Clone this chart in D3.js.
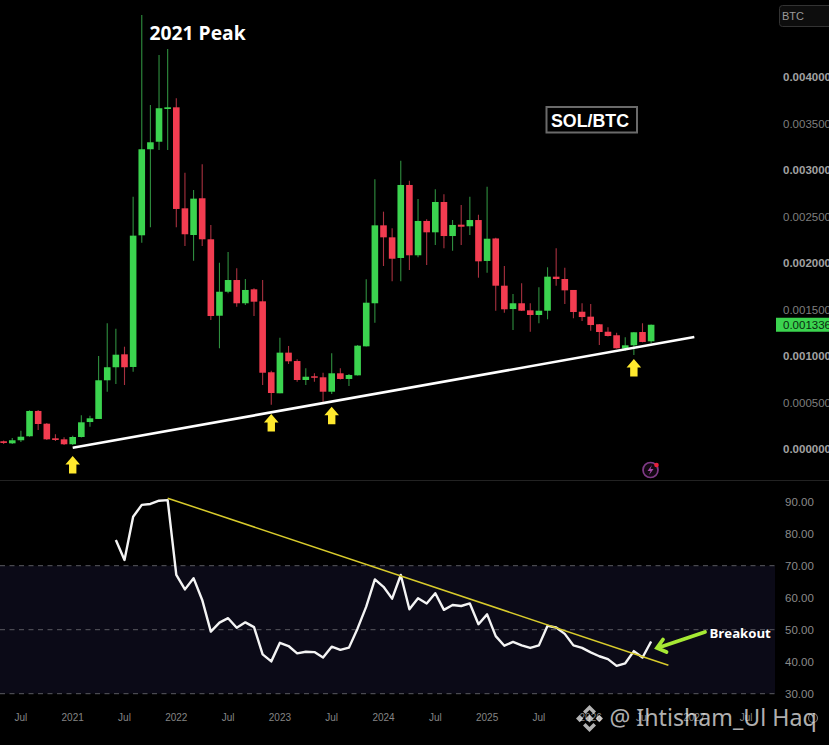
<!DOCTYPE html>
<html>
<head>
<meta charset="utf-8">
<title>SOL/BTC</title>
<script src="https://cdn.jsdelivr.net/npm/d3@7"></script>
<style>
  html, body { margin: 0; padding: 0; background: #000; overflow: hidden; }
  text { font-family: "Liberation Sans", Arial, sans-serif; }
</style>
</head>
<body>
<div id="chart"></div>
<script>
// months since Jan 2021, one candle per month
const firstMonth = -8;
// prices in millionths of a BTC
const opens = [83,61,94,137,409,272,115,104,51,129,290,323,739,879,1018,882,2298,3223,3304,3656,3674,2588,2301,2696,2255,1433,1691,1817,1567,1717,1588,825,599,1036,946,742,782,771,616,814,753,792,1104,1567,2405,2276,2054,2839,2083,2452,2330,2656,2290,2412,2395,2462,2022,2264,1756,1505,1567,1491,1441,1487,1853,1828,1710,1476,1423,1341,1261,1223,1079,1115,1258,1158];
const highs = [91,118,197,416,419,280,158,126,143,362,358,1000,1352,1294,1100,2713,4667,3699,4237,4301,3771,2971,2785,3061,2409,2003,2118,1943,1828,1728,1817,842,1197,1108,965,868,814,820,1029,868,806,1118,1825,2900,2552,2373,3100,2885,2688,2470,2793,2739,2462,2624,2713,2519,2821,2272,1968,1667,1782,1567,1739,1954,2158,1950,1710,1567,1559,1344,1309,1251,1201,1258,1352,1339];
const lows = [54,54,75,132,204,97,86,43,43,124,240,323,616,699,688,831,2218,2384,3215,3215,2384,2183,2025,2183,1387,1083,1674,1530,1548,1430,688,476,599,914,724,688,724,509,591,747,677,790,1102,1358,1968,1803,1803,1925,2061,1979,2194,2158,2132,2194,2301,1842,1896,1487,1466,1280,1484,1261,1352,1395,1756,1559,1405,1376,1272,1118,1210,1081,1057,1011,1147,1137];
const closes = [65,94,132,409,269,104,97,51,129,287,330,739,879,1014,879,2294,3223,3298,3664,3674,2581,2309,2692,2255,1430,1691,1817,1567,1710,1584,820,602,1036,943,742,777,767,616,814,753,796,1111,1573,2405,2276,2046,2839,2083,2452,2330,2656,2290,2409,2390,2462,2018,2261,1756,1502,1567,1487,1441,1487,1853,1828,1706,1473,1419,1333,1258,1215,1083,1115,1255,1151,1336];

// RSI starts at month 5
const rsiFirstMonth = 5;
const rsiValues = [78.0,71.8,85.3,89.0,89.3,90.3,90.5,67.1,62.6,66.1,59.3,49.4,52.2,53.6,50.6,52.3,50.8,42.3,40.1,45.9,44.9,42.6,43.1,43.0,41.3,44.7,43.7,44.4,50.4,57.2,65.7,63.4,59.7,67.1,56.4,59.8,58.2,61.4,56.2,57.7,57.4,58.2,51.7,54.8,48.0,45.0,46.2,45.1,44.3,45.1,51.2,50.7,48.7,45.1,44.3,42.9,41.7,40.8,38.7,39.5,43.3,41.3,46.3];

const priceTicks = [0,500,1000,1500,2000,2500,3000,3500,4000];
const rsiTicks = [30,40,50,60,70,80,90];
const rsiGuides = [30,50,70];
const timeTickMonths = [-6,0,6,12,18,24,30,36,42,48,54,60,66,72,78];
const timeTickLabels = ["Jul","2021","Jul","2022","Jul","2023","Jul","2024","Jul","2025","Jul","2026","Jul","2027","Jul"];

// trend lines as [month, value]
const supportLine = [[0,14],[72,1204]];
const rsiTrend = [[11,91.1],[69,38.9]];
// arrows under the touches: [month, price at tip]
const touchArrows = [[0,-75],[23,376],[30,455],[65,968]];
const lastPrice = 1336;

const width = 829, height = 745;
const x = d3.scaleLinear().domain([0,12]).range([72.7,176.3]);
const y = d3.scaleLinear().domain([0,4000]).range([449,77]);
const yRsi = d3.scaleLinear().domain([30,70]).range([693.7,565.7]);

const svg = d3.select("#chart").append("svg")
  .attr("width", width).attr("height", height)
  .style("display","block").style("background","#000");

const green = "#3bd44f", red = "#f23c50";
const candles = opens.map((o,i) => ({m: firstMonth+i, o, h: highs[i], l: lows[i], c: closes[i]}));

// RSI band + guides
svg.append("rect").attr("x",0).attr("width",775)
  .attr("y",yRsi(70)).attr("height",yRsi(30)-yRsi(70)).attr("fill","#0b0a17");
svg.selectAll("line.guide").data(rsiGuides).enter().append("line")
  .attr("class","guide").attr("x1",0).attr("x2",775)
  .attr("y1",d=>yRsi(d)).attr("y2",d=>yRsi(d))
  .attr("stroke","#5a5a60").attr("stroke-width",1).attr("stroke-dasharray","5 4.5");

// pane separator
svg.append("line").attr("x1",0).attr("x2",width).attr("y1",480.5).attr("y2",480.5)
  .attr("stroke","#222").attr("stroke-width",1);

// candles
const gCandle = svg.append("g");
gCandle.selectAll("line").data(candles).enter().append("line")
  .attr("x1",d=>x(d.m)).attr("x2",d=>x(d.m))
  .attr("y1",d=>y(d.h)).attr("y2",d=>y(d.l))
  .attr("stroke",d=>d.c>=d.o?"#2f8f3f":"#a8303f").attr("stroke-width",1.1);
gCandle.selectAll("rect").data(candles).enter().append("rect")
  .attr("x",d=>x(d.m)-3.3).attr("width",6.6)
  .attr("y",d=>y(Math.max(d.o,d.c)))
  .attr("height",d=>Math.max(1.5,Math.abs(y(d.o)-y(d.c))))
  .attr("fill",d=>d.c>=d.o?green:red);

// support line
svg.append("line")
  .attr("x1",x(supportLine[0][0])).attr("y1",y(supportLine[0][1]))
  .attr("x2",x(supportLine[1][0])).attr("y2",y(supportLine[1][1]))
  .attr("stroke","#fff").attr("stroke-width",2.6);

// yellow arrows
const arrowShape = "M0,0 L7.3,8.5 L3.7,8.5 L3.7,17.5 L-3.7,17.5 L-3.7,8.5 L-7.3,8.5 Z";
svg.selectAll("path.touch").data(touchArrows).enter().append("path")
  .attr("class","touch").attr("d",arrowShape)
  .attr("transform",d=>`translate(${x(d[0])},${y(d[1])})`)
  .attr("fill","#ffe92e");

// right price axis
const axisPrice = svg.append("g");
axisPrice.selectAll("text").data(priceTicks).enter().append("text")
  .attr("x",783).attr("y",d=>y(d)+4)
  .attr("font-size",11.5)
  .attr("font-weight",d=>d%1000===0?"bold":"normal")
  .attr("fill",d=>d%1000===0?"#a2a2a2":"#7e7e7e")
  .text(d=>(d/1e6).toFixed(6));

// last price tag
svg.append("rect").attr("x",776).attr("width",53)
  .attr("y",y(lastPrice)-7).attr("height",14).attr("fill",green);
svg.append("text").attr("x",783).attr("y",y(lastPrice)+4)
  .attr("font-size",11.5).attr("fill","#0a2a10")
  .text((lastPrice/1e6).toFixed(6));

// currency box
svg.append("rect").attr("x",779.5).attr("y",5.5).attr("width",60).attr("height",21).attr("rx",3)
  .attr("fill","#0d0d0d").attr("stroke","#333");
svg.append("text").attr("x",782).attr("y",20).attr("font-size",11).attr("fill","#9a9a9a").text("BTC");

// RSI axis labels
svg.selectAll("text.rsiTick").data(rsiTicks).enter().append("text")
  .attr("class","rsiTick").attr("x",785).attr("y",d=>yRsi(d)+4)
  .attr("font-size",11.5).attr("fill","#8a8a8a").text(d=>d.toFixed(2));

// RSI line
const rsiLine = d3.line().x((d,i)=>x(rsiFirstMonth+i)).y(d=>yRsi(d));
svg.append("path").attr("d",rsiLine(rsiValues))
  .attr("fill","none").attr("stroke","#f4f4f4").attr("stroke-width",2.4).attr("stroke-linejoin","round");

// RSI trend line
svg.append("line")
  .attr("x1",x(rsiTrend[0][0])).attr("y1",yRsi(rsiTrend[0][1]))
  .attr("x2",x(rsiTrend[1][0])).attr("y2",yRsi(rsiTrend[1][1]))
  .attr("stroke","#d8cb2c").attr("stroke-width",1.5);

// time labels
svg.selectAll("text.timeTick").data(timeTickMonths).enter().append("text")
  .attr("class","timeTick").attr("x",d=>x(d)).attr("y",721)
  .attr("text-anchor","middle").attr("font-size",10)
  .attr("fill","#858585").text((d,i)=>timeTickLabels[i]);

// settings gear, bottom right
svg.append("circle").attr("cx",813).attr("cy",718).attr("r",4.5)
  .attr("fill","none").attr("stroke","#777").attr("stroke-width",1.2);

// annotations
svg.append("text").attr("x",149.5).attr("y",40)
  .style("font-family","'Open Sans'").attr("font-size",19.3).attr("font-weight",700)
  .attr("fill","#fff").text("2021 Peak");

svg.append("rect").attr("x",546.5).attr("y",107).attr("width",90.5).attr("height",25.5)
  .attr("fill","#000").attr("stroke","#6a6a6a").attr("stroke-width",2);
svg.append("text").attr("x",590).attr("y",126.5).attr("text-anchor","middle")
  .style("font-weight",700).attr("font-size",17.8)
  .attr("fill","#fff").text("SOL/BTC");

svg.append("text").attr("x",709.5).attr("y",637.5)
  .style("font-family","'Open Sans'").attr("font-size",13.2).attr("font-weight",700)
  .attr("fill","#fff").text("Breakout");

// breakout arrow
svg.append("path").attr("d","M705,632 L657.5,648 M663,639.5 L657,648 L666.5,652")
  .attr("fill","none").attr("stroke","#a6e934").attr("stroke-width",3.8)
  .attr("stroke-linecap","round").attr("stroke-linejoin","miter");

// lightning badge
const badge = svg.append("g").attr("transform","translate(650.5,470)");
badge.append("circle").attr("r",7.5).attr("fill","#120812").attr("stroke","#7f3a86").attr("stroke-width",1.7);
badge.append("path").attr("d","M1.5,-5 L-3,1 L0,1 L-1.5,5 L3,-1 L0,-1 Z").attr("fill","#a24aa8");
badge.append("circle").attr("cx",6).attr("cy",-5).attr("r",2.3).attr("fill","#e8203c");

// watermark
const mark = svg.append("g").attr("fill","#fff").attr("fill-opacity",0.7);
mark.append("g").attr("transform","translate(589.5,718.5)")
  .selectAll("path").data(["M0,-13.5 L6.5,-7 L4,-4.5 L0,-8.5 L-4,-4.5 L-6.5,-7 Z","M0,13.5 L6.5,7 L4,4.5 L0,8.5 L-4,4.5 L-6.5,7 Z","M-13.5,0 L-9.8,-3.7 L-6.1,0 L-9.8,3.7 Z","M13.5,0 L9.8,-3.7 L6.1,0 L9.8,3.7 Z","M0,-4 L4,0 L0,4 L-4,0 Z"])
  .enter().append("path").attr("d",d=>d);
mark.append("text").attr("x",609.5).attr("y",726)
  .style("font-family","'Noto Sans'").attr("font-size",23.2).text("@ Ihtisham_Ul Haq");
</script>
</body>
</html>
